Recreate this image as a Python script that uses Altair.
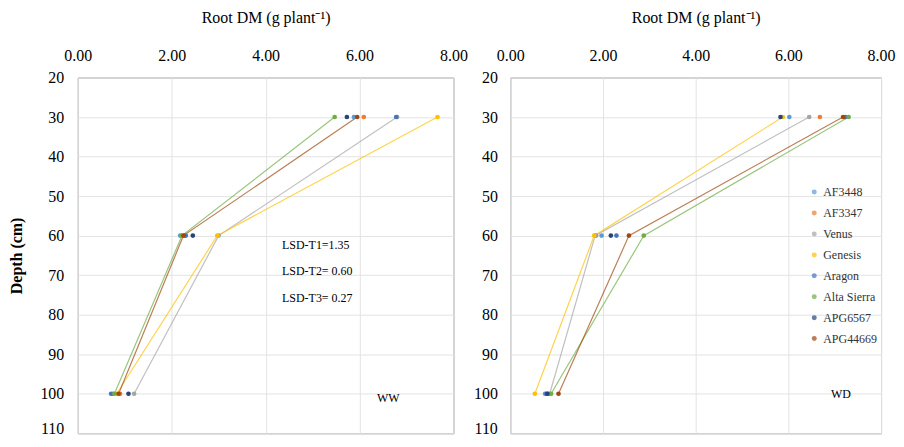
import altair as alt
import pandas as pd

varieties = ["AF3448", "AF3347", "Venus", "Genesis", "Aragon", "Alta Sierra", "APG6567", "APG44669"]
colors = ["#5B9BD5", "#ED7D31", "#A5A5A5", "#FFC000", "#4472C4", "#70AD47", "#264478", "#9E480E"]
with_line = ["Venus", "Genesis", "Alta Sierra", "APG44669"]
depths = [30, 60, 100]

# Root DM (g plant-1) per variety at depths 30, 60, 100 cm
ww_30 = [5.88, 6.09, 6.80, 7.66, 6.78, 5.47, 5.73, 5.95]
ww_60 = [2.18, 2.28, 3.00, 2.97, 2.30, 2.22, 2.45, 2.25]
ww_100 = [0.75, 0.90, 1.20, 0.83, 0.71, 0.78, 1.08, 0.87]

wd_30 = [6.02, 6.68, 6.45, 5.88, 7.23, 7.30, 5.83, 7.18]
wd_60 = [1.97, 1.85, 1.83, 1.81, 2.29, 2.88, 2.17, 2.56]
wd_100 = [0.75, 0.82, 0.85, 0.53, 0.78, 0.88, 0.80, 1.04]

lsd_text = ["LSD-T1=1.35", "LSD-T2= 0.60", "LSD-T3= 0.27"]
lsd_x = [4.35, 4.35, 4.35]
lsd_y = [62.3, 69.0, 75.8]


def frame(v30, v60, v100):
    rows = []
    for i, v in enumerate(varieties):
        for d, val in zip(depths, [v30[i], v60[i], v100[i]]):
            rows.append({"variety": v, "depth": d, "dm": val})
    return pd.DataFrame(rows)


FONT = "Liberation Serif"
color_scale = alt.Scale(domain=varieties, range=colors)
x_scale = alt.Scale(domain=[0, 8], nice=False, zero=False)
y_scale = alt.Scale(domain=[20, 110], reverse=True, nice=False, zero=False)


def make_axes(show_title):
    x = alt.X("dm:Q", scale=x_scale,
              axis=alt.Axis(orient="top", values=[0, 2, 4, 6, 8], format=".2f",
                            title="Root DM (g plant\u207b\u00b9)", titleFontSize=16,
                            titleFontWeight="normal", titlePadding=22,
                            labelFontSize=16, labelPadding=14, ticks=False,
                            labelFlush=False, labelOverlap=False,
                            domain=False, grid=True, gridColor="#e3e3e3",
                            labelFont=FONT, titleFont=FONT, labelColor="#000",
                            titleColor="#000"))
    y = alt.Y("depth:Q", scale=y_scale,
              axis=alt.Axis(values=list(range(20, 111, 10)), labelOverlap=False,
                            labelFlush=False,
                            labelBaseline={"condition": {"test": "datum.value == 110",
                                                         "value": "alphabetic"},
                                           "value": "middle"},
                            title="Depth (cm)" if show_title else None,
                            titleFontSize=16, titleFontWeight="bold", titlePadding=15,
                            labelFontSize=16, labelPadding=14 if show_title else 13,
                            ticks=False,
                            domain=False, grid=True, gridColor="#e3e3e3",
                            labelFont=FONT, titleFont=FONT, labelColor="#000",
                            titleColor="#000"))
    return x, y


def panel(df, show_title, show_legend, label_text, label_x, label_y, ann=None):
    x, y = make_axes(show_title)
    legend = None
    if show_legend:
        legend = alt.Legend(orient="none", legendX=299, legendY=109, title=None,
                            labelFont=FONT, labelFontSize=12, labelColor="#333",
                            symbolType="circle", symbolSize=25, rowPadding=9,
                            labelOffset=3, symbolStrokeWidth=0)
    color = alt.Color("variety:N", scale=color_scale, sort=varieties, legend=legend)
    base = alt.Chart(df)
    lines = base.transform_filter(
        alt.FieldOneOfPredicate(field="variety", oneOf=with_line)
    ).mark_line(strokeWidth=1.2, opacity=0.7).encode(
        x=x, y=y, color=color, order="depth:Q", detail="variety:N")
    pts = base.mark_circle(size=22, opacity=1).encode(x=x, y=y, color=color)
    lab = alt.Chart(pd.DataFrame({"t": [label_text], "dm": [label_x], "depth": [label_y]})).mark_text(
        font=FONT, fontSize=12, align="left", baseline="middle", color="#000"
    ).encode(x=x, y=y, text="t:N")
    layers = [lines, pts, lab]
    if ann is not None:
        layers.append(alt.Chart(ann).mark_text(
            font=FONT, fontSize=12, align="left", baseline="middle", color="#000"
        ).encode(x=x, y=y, text="t:N"))
    return alt.layer(*layers).properties(width=377, height=357)


ann_df = pd.DataFrame({"t": lsd_text, "dm": lsd_x, "depth": lsd_y})

left = panel(frame(ww_30, ww_60, ww_100), True, False, "WW", 6.37, 101.0, ann_df)
right = panel(frame(wd_30, wd_60, wd_100), False, True, "WD", 6.92, 100.0).properties(width=372)

chart = alt.hconcat(left, right, spacing=4).resolve_legend(color="independent").configure_view(
    stroke="#8c8c8c", strokeWidth=1
).configure_axis(labelFont=FONT, titleFont=FONT).properties(
    background="white", padding={"left": 0, "top": 0, "right": 0, "bottom": 0})

chart.save("out.html", embed_options={"renderer": "svg", "actions": False})
